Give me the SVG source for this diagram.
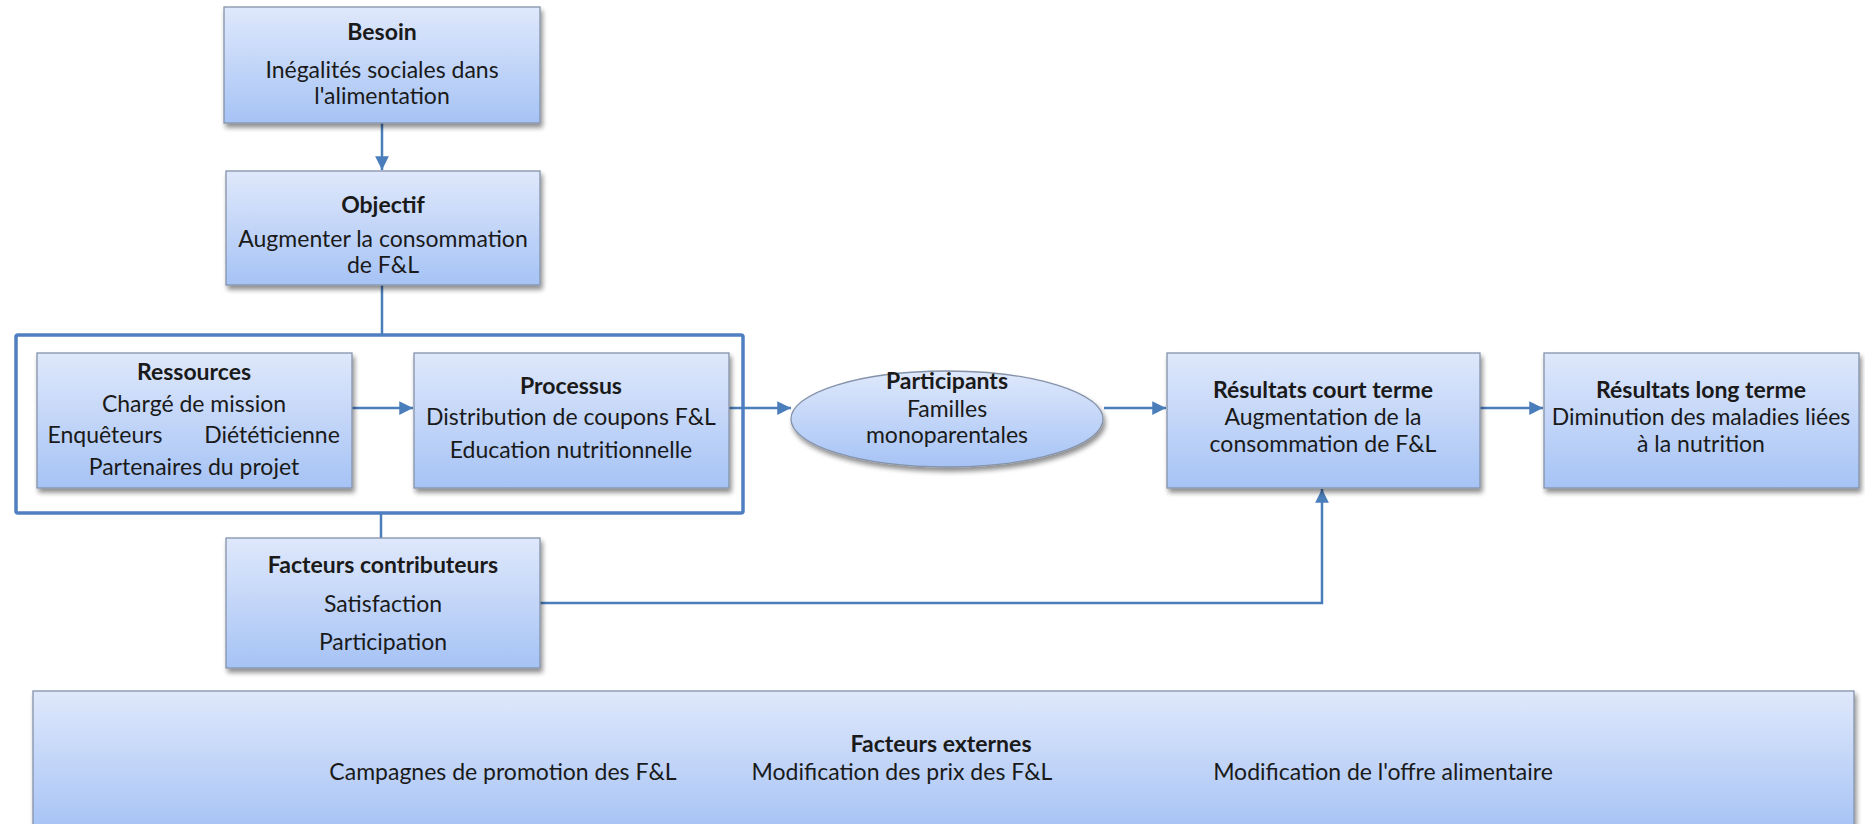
<svg xmlns="http://www.w3.org/2000/svg" width="1865" height="824" viewBox="0 0 1865 824">
<defs>
<linearGradient id="g" x1="0" y1="0" x2="0" y2="1">
<stop offset="0" stop-color="#dfe8fb"/>
<stop offset="1" stop-color="#a6c3f5"/>
</linearGradient>
<filter id="sh" x="-5%" y="-5%" width="115%" height="125%">
<feGaussianBlur in="SourceAlpha" stdDeviation="2.5"/>
<feOffset dx="2" dy="4" result="b"/>
<feComponentTransfer><feFuncA type="linear" slope="0.45"/></feComponentTransfer>
<feMerge><feMergeNode/><feMergeNode in="SourceGraphic"/></feMerge>
</filter>
<marker id="ah" viewBox="0 0 10 10" refX="10" refY="5" markerWidth="5.5" markerHeight="5.5" orient="auto" markerUnits="strokeWidth">
<path d="M0,0 L10,5 L0,10 z" fill="#4a7ebb"/>
</marker>
</defs>
<style>
.box{fill:url(#g);stroke:#8593aa;stroke-width:1.3;filter:url(#sh)}
.t{font-family:Lato,"Open Sans",sans-serif;font-size:23px;fill:#1a1a1a;text-anchor:middle}
.b{font-weight:bold}
.c{fill:none;stroke:#4a7ebb;stroke-width:2.5}
.a{marker-end:url(#ah)}
</style>
<rect width="1865" height="824" fill="#ffffff"/>

<g id="frame">
<rect x="16" y="335" width="727" height="178" fill="none" stroke="#4f7fc0" stroke-width="3.5" rx="2"/>
</g>

<g id="connectors">
<line class="c a" x1="382" y1="123" x2="382" y2="170"/>
<line class="c" x1="382" y1="285" x2="382" y2="335"/>
<line class="c a" x1="352" y1="408" x2="413" y2="408"/>
<line class="c a" x1="729" y1="408" x2="791" y2="408"/>
<line class="c a" x1="1104" y1="408" x2="1166" y2="408"/>
<line class="c a" x1="1480" y1="408" x2="1543" y2="408"/>
<line class="c" x1="381" y1="513" x2="381" y2="538"/>
<polyline class="c a" points="540,603 1322,603 1322,489"/>
</g>

<g id="besoin">
<rect class="box" x="224" y="7" width="316" height="116"/>
<text class="t b" x="382" y="40">Besoin</text>
<text class="t" x="382" y="78">Inégalités sociales dans</text>
<text class="t" x="382" y="104">l'alimentation</text>
</g>

<g id="objectif">
<rect class="box" x="226" y="171" width="314" height="114"/>
<text class="t b" x="383" y="213">Objectif</text>
<text class="t" x="383" y="247">Augmenter la consommation</text>
<text class="t" x="383" y="273">de F&amp;L</text>
</g>

<g id="ressources">
<rect class="box" x="37" y="353" width="315" height="135"/>
<text class="t b" x="194" y="380">Ressources</text>
<text class="t" x="194" y="412">Chargé de mission</text>
<text class="t" x="105" y="443">Enquêteurs</text>
<text class="t" x="272" y="443">Diététicienne</text>
<text class="t" x="194" y="475">Partenaires du projet</text>
</g>

<g id="processus">
<rect class="box" x="414" y="353" width="315" height="135"/>
<text class="t b" x="571" y="394">Processus</text>
<text class="t" x="571" y="425">Distribution de coupons F&amp;L</text>
<text class="t" x="571" y="458">Education nutritionnelle</text>
</g>

<g id="participants">
<ellipse class="box" cx="947" cy="419" rx="156" ry="48"/>
<text class="t b" x="947" y="389">Participants</text>
<text class="t" x="947" y="417">Familles</text>
<text class="t" x="947" y="443">monoparentales</text>
</g>

<g id="resultats-court">
<rect class="box" x="1167" y="353" width="313" height="135"/>
<text class="t b" x="1323" y="398">Résultats court terme</text>
<text class="t" x="1323" y="425">Augmentation de la</text>
<text class="t" x="1323" y="452">consommation de F&amp;L</text>
</g>

<g id="resultats-long">
<rect class="box" x="1544" y="353" width="315" height="135"/>
<text class="t b" x="1701" y="398">Résultats long terme</text>
<text class="t" x="1701" y="425">Diminution des maladies liées</text>
<text class="t" x="1701" y="452">à la nutrition</text>
</g>

<g id="facteurs-contributeurs">
<rect class="box" x="226" y="538" width="314" height="130"/>
<text class="t b" x="383" y="573">Facteurs contributeurs</text>
<text class="t" x="383" y="612">Satisfaction</text>
<text class="t" x="383" y="650">Participation</text>
</g>

<g id="facteurs-externes">
<rect class="box" x="33" y="691" width="1821" height="140"/>
<text class="t b" x="941" y="752">Facteurs externes</text>
<text class="t" x="503" y="780">Campagnes de promotion des F&amp;L</text>
<text class="t" x="902" y="780">Modification des prix des F&amp;L</text>
<text class="t" x="1383" y="780">Modification de l'offre alimentaire</text>
</g>
</svg>
